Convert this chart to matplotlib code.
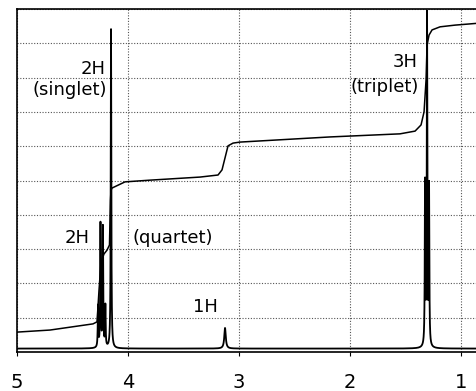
import numpy as np
import matplotlib.pyplot as plt

# peaks: position (ppm), height (% of full scale), half width (ppm)
peak_ppm = [4.270, 4.248, 4.226, 4.204, 4.153, 3.126, 1.324, 1.306, 1.288]
peak_height = [12, 36, 35, 12, 93, 6, 47, 96, 46]
peak_hw = [0.003, 0.003, 0.003, 0.003, 0.003, 0.008, 0.003, 0.003, 0.003]
baseline = 1.0

# integral trace read point by point
int_ppm = [5.0, 4.703, 4.315, 4.279, 4.261, 4.243, 4.216, 4.189, 4.167, 4.158,
           4.153, 4.144, 4.027, 3.802, 3.351, 3.189, 3.153, 3.126, 3.099, 3.054,
           2.991, 2.180, 1.550, 1.414, 1.360, 1.333, 1.315, 1.306, 1.288, 1.261,
           1.189, 1.054, 0.865]
int_val = [5.8, 6.4, 8.2, 8.8, 18.1, 26.2, 28.6, 29.7, 31.2, 44.3,
           47.2, 47.8, 49.6, 50.1, 51.0, 51.6, 53.1, 56.6, 60.1, 60.9,
           61.2, 62.7, 63.6, 64.4, 66.2, 70.0, 79.3, 89.5, 92.4, 93.9,
           94.8, 95.3, 95.8]

# text, ppm, height (% of full scale), alignment
labels = [("2H", 4.198, 82.5, "right"), ("(singlet)", 4.189, 76.5, "right"),
          ("3H", 1.387, 84.5, "right"), ("(triplet)", 1.378, 77.2, "right"),
          ("2H", 4.342, 33.2, "right"), ("(quartet)", 3.955, 33.2, "left"),
          ("1H", 3.414, 13.1, "left")]

fig = plt.figure(figsize=(4.76, 3.91), dpi=100)
ax = fig.add_axes([17 / 476, 1 - 352 / 391, 1 - 17 / 476, 343 / 391])

x = np.linspace(5.0, 0.865, 40000)
y = np.full_like(x, baseline)
for p, h, w in zip(peak_ppm, peak_height, peak_hw):
    y += h * w ** 2 / ((x - p) ** 2 + w ** 2)
ax.plot(x, y, color="black", lw=1.3)
ax.plot(int_ppm, int_val, color="black", lw=1.1)

ax.set_xlim(5.0, 0.865)
ax.set_ylim(0, 100)
ax.set_xticks([5, 4, 3, 2, 1])
ax.set_yticks(np.arange(0, 101, 10))
ax.set_yticklabels([])
ax.tick_params(axis="y", length=0)
ax.tick_params(axis="x", length=3, labelsize=14, pad=12)
ax.grid(True, color="#555555", linestyle=(0, (1, 1.5)), linewidth=0.8)
ax.spines["right"].set_visible(False)
for s in ["left", "top", "bottom"]:
    ax.spines[s].set_linewidth(1.2)

for txt, px, py, ha in labels:
    ax.text(px, py, txt, ha=ha, va="center", fontsize=13, family="DejaVu Sans")

fig.savefig("out.png", dpi=100)
